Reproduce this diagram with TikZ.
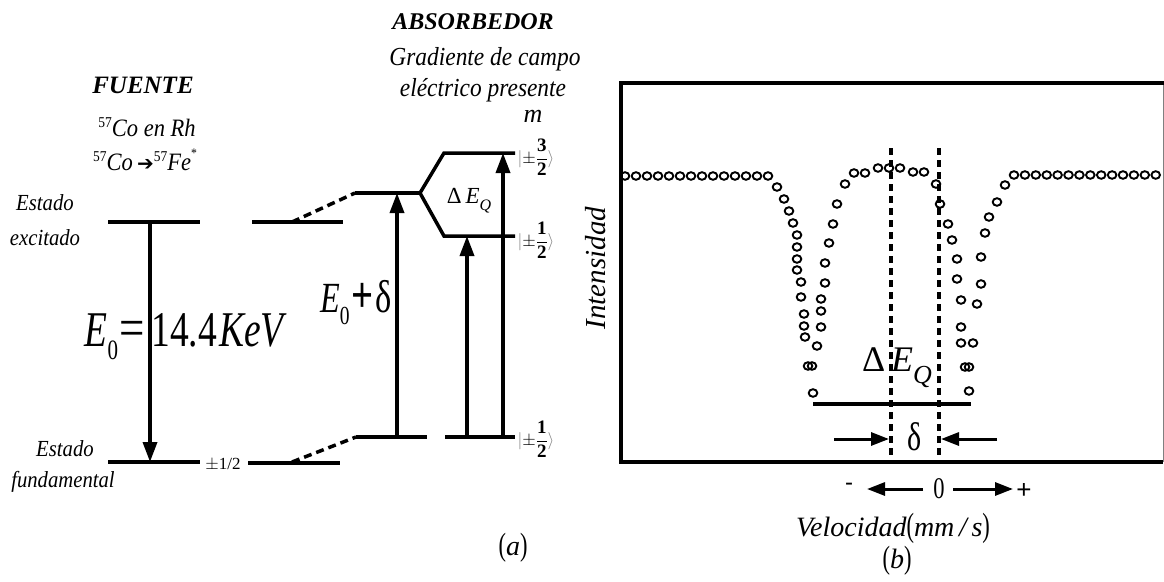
\documentclass[tikz,border=0pt]{standalone}
\usepackage{fontspec}
\usepackage{graphicx}
\setmainfont{Liberation Serif}
\newfontfamily\condf[FakeStretch=0.75]{Liberation Serif}
\newfontfamily\condi[FakeStretch=0.9]{Liberation Serif}
\newfontfamily\djv{DejaVu Sans}
\newfontfamily\sansf{Liberation Sans}
\usetikzlibrary{arrows.meta}
\newcommand\myfs[1]{\fontsize{#1}{#1}\selectfont}
\newcommand\myket[1]{$\color{gray}|\color{black}{\pm}\displaystyle\frac{\mathbf{#1}}{\mathbf{2}}\color{gray}\rangle$}
\begin{document}
\begin{tikzpicture}[x=1pt,y=-1pt,
  lvl/.style={line width=3.5pt},
  dlvl/.style={line width=3.5pt,dash pattern=on 8pt off 5pt},
  arrowline/.style={line width=3.5pt,-{Triangle[length=20pt,width=14pt]}},
  vdash/.style={line width=3.2pt,dash pattern=on 7pt off 5pt},
  dot/.style={line width=1.9pt},
  hdarrow/.style={line width=3pt,-{Triangle[length=18pt,width=13pt]}},
  lbl/.style={inner sep=0pt}]
\useasboundingbox (0,0) rectangle (1164,581);
% ---------------- left diagram -----------------
\node[lbl] (fu) at (143,85) {\bfseries\itshape\myfs{25}FUENTE};
\node[lbl] (co) at (147,127) {\condi\myfs{25}\raisebox{9pt}{\myfs{15}57}\textit{Co en Rh}};
\node[lbl] (cofe) at (145,160) {\condi\myfs{25}\raisebox{9pt}{\myfs{15}57}\textit{Co}\,{\djv\bfseries\myfs{20}➔}\raisebox{9pt}{\myfs{15}57}\textit{Fe}\raisebox{13pt}{\myfs{13}*}};
\node[lbl] (ee1) at (45,203) {\condi\itshape\myfs{23}Estado};
\node[lbl] (ee2) at (45,238) {\condi\itshape\myfs{23}excitado};
\node[lbl] (ef1) at (65,449) {\condi\itshape\myfs{23}Estado};
\node[lbl] (ef2) at (63,482) {\condi\itshape\myfs{23}fundamental};
\node[lbl] (pm) at (223,465) {\myfs{17}$\pm$1/2};

\coordinate (s1a) at (108,222); \coordinate (s1b) at (200,222);
\coordinate (s2a) at (252,222); \coordinate (s2b) at (343,222);
\coordinate (g1a) at (108,462); \coordinate (g1b) at (200,462);
\coordinate (g2a) at (248,463); \coordinate (g2b) at (340,463);
\coordinate (aba) at (355,193); \coordinate (abb) at (420,193);
\coordinate (upa) at (444,153); \coordinate (upb) at (515,153);
\coordinate (loa) at (444,236); \coordinate (lob) at (515,236);
\coordinate (ag1a) at (356,437); \coordinate (ag1b) at (427,437);
\coordinate (ag2a) at (445,437); \coordinate (ag2b) at (515,437);
\coordinate (ds1) at (292,222); \coordinate (dg1) at (292,462);

\draw[lvl] (s1a) -- (s1b);
\draw[lvl] (s2a) -- (s2b);
\draw[lvl] (g1a) -- (g1b);
\draw[lvl] (g2a) -- (g2b);
\draw[lvl] (aba) -- (abb);
\draw[lvl,line join=miter] (upb) -- (upa) -- (abb) -- (loa) -- (lob);
\draw[lvl] (ag1a) -- (ag1b);
\draw[lvl] (ag2a) -- (ag2b);
\draw[dlvl] (ds1) -- (aba);
\draw[dlvl] (dg1) -- (ag1a);

\coordinate (a0t) at (150,222); \coordinate (a0b) at (150,462);
\coordinate (a1b) at (397,437); \coordinate (a1t) at (397,193);
\coordinate (a2b) at (467,437); \coordinate (a2t) at (467,236);
\coordinate (a3b) at (503,437); \coordinate (a3t) at (503,153);
\draw[arrowline] (a0t) -- (a0b);
\draw[arrowline] (a1b) -- (a1t);
\draw[arrowline] (a2b) -- (a2t);
\draw[arrowline] (a3b) -- (a3t);

\node[lbl] (e0) at (186,337) {\condf\myfs{50}\textit{E}\raisebox{-13pt}{\myfs{28}0}\hspace{1pt}\scalebox{1.2}[1.1]{=}\hspace{7pt}14.4\hspace{2pt}\textit{KeV}};
\node[lbl] (e0d) at (356,303) {\condf\myfs{43}\textit{E}\raisebox{-12pt}{\myfs{26}0}\hspace{2pt}\scalebox{1.2}{\textbf{+}}\hspace{2pt}{\myfs{46}δ}};

\node[lbl] (ab) at (473,22) {\bfseries\itshape\myfs{24}ABSORBEDOR};
\node[lbl] (gr1) at (485,59) {\condi\itshape\myfs{26}Gradiente de campo};
\node[lbl] (gr2) at (483,90) {\condi\itshape\myfs{26}eléctrico presente};
\node[lbl] (mm) at (533,116) {\itshape\myfs{26}m};
\node[lbl] (dq) at (469,201) {\myfs{23}Δ\,\textit{E}\raisebox{-7pt}{\myfs{16}\textit{Q}}};
\node[lbl] (k3) at (536,157) {\myfs{19}\myket{3}};
\node[lbl] (k1) at (536,240) {\myfs{19}\myket{1}};
\node[lbl] (k0) at (536,439) {\myfs{19}\myket{1}};

\node[lbl] (lba) at (513,548) {\myfs{28}\scalebox{0.8}[1.15]{(}\textit{a}\scalebox{0.8}[1.15]{)}};

% ---------------- right plot -----------------
\coordinate (bl) at (621,462); \coordinate (tl) at (621,83);
\coordinate (tr) at (1163,83); \coordinate (br) at (1163,462);
\draw[line width=1pt,gray] (tr) -- (br);
\draw[line width=4pt,line cap=rect] (bl) -- (tl) -- (tr);
\draw[line width=4pt] (bl) -- (br);

\foreach \i in {0,...,13} \draw[dot] (625+11*\i,176) ellipse[x radius=4.3pt,y radius=3.8pt];
\foreach \i in {0,...,13} \draw[dot] (1014+10.9*\i,175) ellipse[x radius=4.3pt,y radius=3.8pt];
\foreach \px/\py in {777/187,784/199,789/211,793/223,797/235,797/247,797/259,797/270,801/282,801/297,804/314,804/326,805/337,817/346,808/366,812/366,813/393,
 821/327,821/311,821/299,825/283,825/263,829/243,833/224,837/204,845/184,854/173,865/173,
 878/168,889/168,900/168,913/172,924/172,
 936/184,940/204,948/224,952/240,957/259,957/279,961/300,961/327,961/343,965/367,969/367,969/391,
 973/343,977/304,981/284,981/257,985/233,989/217,997/202,1005/185}
  \draw[dot] (\px,\py) ellipse[x radius=4.3pt,y radius=3.8pt];

\coordinate (v1t) at (891,148); \coordinate (v1b) at (891,462);
\coordinate (v2t) at (939,148); \coordinate (v2b) at (939,462);
\draw[vdash] (v1t) -- (v1b);
\draw[vdash] (v2t) -- (v2b);

\coordinate (hla) at (813,404); \coordinate (hlb) at (971,404);
\draw[lvl] (hla) -- (hlb);
\node[lbl] (pdq) at (897,368) {\myfs{36}Δ\,\textit{E}\raisebox{-12pt}{\myfs{26}\textit{Q}}};

\coordinate (dl1) at (834,439); \coordinate (dl2) at (889,439);
\coordinate (dr1) at (997,439); \coordinate (dr2) at (941,439);
\draw[hdarrow] (dl1) -- (dl2);
\draw[hdarrow] (dr1) -- (dr2);
\node[lbl] (pdl) at (915,437) {\condf\myfs{40}δ};

\node[lbl] (int) at (596,268) [rotate=90] {\itshape\myfs{29}Intensidad};

\node[lbl] (mi) at (849,487) {\sansf\myfs{24}-};
\node[lbl] (ze) at (939,489) {\condf\myfs{30}0};
\node[lbl] (pl) at (1024,491) {\sansf\myfs{26}+};
\coordinate (vl1) at (923,489); \coordinate (vl2) at (867,489);
\coordinate (vr1) at (953,489); \coordinate (vr2) at (1013,489);
\draw[hdarrow] (vl1) -- (vl2);
\draw[hdarrow] (vr1) -- (vr2);

\node[lbl] (vel) at (893,528) {\myfs{28}\textit{Velocidad}\scalebox{0.8}[1.2]{(}\textit{mm\,/\,s}\scalebox{0.8}[1.2]{)}};
\node[lbl] (lbb) at (897,561) {\myfs{28}\scalebox{0.8}[1.15]{(}\textit{b}\scalebox{0.8}[1.15]{)}};
\end{tikzpicture}
\end{document}
